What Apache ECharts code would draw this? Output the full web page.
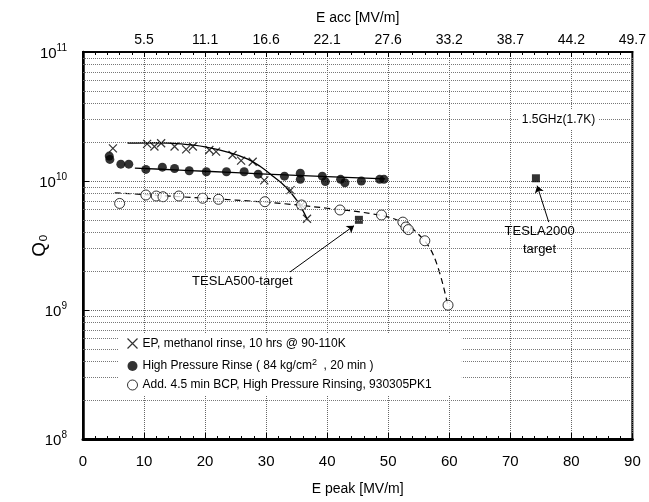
<!DOCTYPE html>
<html>
<head>
<meta charset="utf-8">
<script src="https://cdn.jsdelivr.net/npm/echarts@6/dist/echarts.min.js"></script>
<style>
html, body { margin: 0; padding: 0; background: #fff; }
#chart { width: 649px; height: 502px; }
</style>
</head>
<body>
<div id="chart"></div>
<script>
// values: E peak [MV/m] and Q0
const epX = [4.9, 10.5, 11.7, 12.8, 15.0, 16.9, 18.0, 20.7, 21.8, 24.5, 25.9, 27.8, 29.7, 34.0, 35.8, 36.7];
const epQ = [1.79e10, 1.94e10, 1.85e10, 1.96e10, 1.85e10, 1.76e10, 1.85e10, 1.74e10, 1.69e10, 1.59e10, 1.44e10, 1.41e10, 1.01e10, 8.5e9, 6.5e9, 5.1e9];
const epFitX = [7.3, 12, 16, 20, 24, 27, 29, 31, 33, 35, 36.7];
const epFitQ = [1.97e10, 1.98e10, 1.94e10, 1.84e10, 1.66e10, 1.48e10, 1.30e10, 1.10e10, 9.2e9, 7.1e9, 5.1e9];

const hprX = [4.3, 4.4, 6.2, 7.5, 10.3, 13.0, 15.0, 17.4, 20.2, 23.5, 26.4, 28.7, 33.0, 35.6, 35.6, 39.2, 39.7, 42.2, 42.9, 45.6, 48.6, 49.3];
const hprQ = [1.56e10, 1.47e10, 1.35e10, 1.35e10, 1.23e10, 1.28e10, 1.25e10, 1.20e10, 1.18e10, 1.18e10, 1.18e10, 1.13e10, 1.09e10, 1.15e10, 1.03e10, 1.09e10, 9.9e9, 1.03e10, 9.7e9, 1.0e10, 1.03e10, 1.03e10];
const hprFitX = [8.5, 15, 20, 30, 40, 49.5];
const hprFitQ = [1.26e10, 1.22e10, 1.19e10, 1.13e10, 1.08e10, 1.04e10];

const bcpX = [6.0, 10.3, 12.0, 13.1, 15.7, 19.6, 22.2, 29.8, 35.8, 42.1, 48.9, 52.4, 52.9, 53.3, 56.0, 59.8];
const bcpQ = [6.7e9, 7.79e9, 7.65e9, 7.55e9, 7.65e9, 7.35e9, 7.21e9, 6.91e9, 6.52e9, 5.96e9, 5.45e9, 4.8e9, 4.4e9, 4.2e9, 3.44e9, 1.09e9];
const bcpFitX = [5.2, 10, 20, 30, 40, 48, 52, 55, 57.5, 59.7];
const bcpFitQ = [8.1e9, 7.85e9, 7.35e9, 6.85e9, 6.15e9, 5.5e9, 4.85e9, 3.85e9, 2.6e9, 1.12e9];

const targetX = [45.2, 74.2];
const targetQ = [5.0e9, 1.05e10];

const topTickLabels = ['5.5', '11.1', '16.6', '22.1', '27.6', '33.2', '38.7', '44.2', '49.7'];
const decades = [1e8, 1e9, 1e10];
const minorSteps = [2, 3, 4, 5, 6, 7, 8, 9];

const names = {
  ep: 'EP, methanol rinse, 10 hrs @ 90-110K',
  hpr: 'High Pressure Rinse ( 84 kg/cm2  , 20 min )',
  bcp: 'Add. 4.5 min BCP, High Pressure Rinsing, 930305PK1'
};

const zip = (xs, ys) => xs.map((x, i) => [x, ys[i]]);
const font = 'Liberation Sans, Arial, Helvetica, sans-serif';
const crossPath = 'path://M0,0L10,10M0,10L10,0';

const minorLines = [];
decades.forEach(d => minorSteps.forEach(m => minorLines.push({ yAxis: d * m })));

const myChart = echarts.init(document.getElementById('chart'));
const option = {
  animation: false,
  textStyle: { fontFamily: font, color: '#000' },
  grid: { left: 83, right: 14, top: 52, bottom: 63, show: true, borderColor: '#000', borderWidth: 2 },
  legend: {
    orient: 'vertical',
    left: 119,
    top: 333,
    z: 20,
    padding: [3, 30, 4, 6],
    backgroundColor: '#fff',
    itemWidth: 10,
    itemHeight: 10,
    itemGap: 7,
    selectedMode: false,
    textStyle: {
      fontSize: 12, color: '#000',
      rich: { sup: { fontSize: 9, verticalAlign: 'bottom', padding: [0, 0, 7, 0] } }
    },
    formatter: function (n) {
      return n === names.hpr ? 'High Pressure Rinse ( 84 kg/cm{sup|2}  , 20 min )' : n;
    },
    data: [
      { name: names.ep, icon: crossPath, itemStyle: { color: 'none', borderColor: '#000', borderWidth: 1.2 } },
      { name: names.hpr, icon: 'circle', itemStyle: { color: '#000' } },
      { name: names.bcp, icon: 'circle', itemStyle: { color: '#fff', borderColor: '#000', borderWidth: 1 } }
    ]
  },
  xAxis: [
    {
      type: 'value', min: 0, max: 90, interval: 10,
      name: 'E peak [MV/m]', nameLocation: 'middle', nameGap: 43,
      nameTextStyle: { fontSize: 14 },
      axisLine: { lineStyle: { color: '#000', width: 3 } },
      axisTick: { inside: true, length: 6, lineStyle: { color: '#000' } },
      minorTick: { show: true, splitNumber: 5, length: 3, lineStyle: { color: '#000' } },
      axisLabel: { fontSize: 15, margin: 15, color: '#000', showMaxLabel: true },
      splitLine: { show: true, lineStyle: { color: '#666', type: 'dotted', width: 1 } }
    },
    {
      type: 'value', position: 'top', min: 0, max: 90, interval: 10,
      name: 'E acc [MV/m]', nameLocation: 'middle', nameGap: 27,
      nameTextStyle: { fontSize: 14 },
      axisLine: { lineStyle: { color: '#000', width: 2 } },
      axisTick: { inside: true, length: 5, lineStyle: { color: '#000' } },
      minorTick: { show: true, splitNumber: 5, length: 3, lineStyle: { color: '#000' } },
      axisLabel: {
        fontSize: 14, margin: 5, color: '#000', showMaxLabel: true,
        formatter: v => (v === 0 ? '' : topTickLabels[v / 10 - 1])
      },
      splitLine: { show: false }
    }
  ],
  yAxis: {
    type: 'log', logBase: 10, min: 1e8, max: 1e11,
    name: 'Q\u2080', nameLocation: 'middle', nameGap: 34, nameRotate: 90,
    nameMoveOverlap: false,
    nameTextStyle: { fontSize: 19 },
    axisLine: { lineStyle: { color: '#000', width: 2.5 } },
    axisTick: { inside: true, length: 6, lineStyle: { color: '#000' } },
    axisLabel: {
      margin: 16, color: '#000',
      formatter: v => '{b|10}{s|' + Math.round(Math.log10(v)) + '}',
      rich: {
        b: { fontSize: 15, verticalAlign: 'bottom' },
        s: { fontSize: 10, verticalAlign: 'bottom', padding: [0, 0, 8, 0] }
      }
    },
    splitLine: { show: true, lineStyle: { color: '#666', type: 'dotted', width: 1 } }
  },
  series: [
    {
      name: 'hprFit', type: 'line', data: zip(hprFitX, hprFitQ), smooth: 0.4,
      showSymbol: false, silent: true, z: 1,
      lineStyle: { color: '#000', width: 1.3 },
      markLine: {
        silent: true, symbol: ['none', 'none'], label: { show: false },
        lineStyle: { color: '#777', type: 'dotted', width: 1 },
        data: minorLines
      }
    },
    {
      name: 'epFit', type: 'line', data: zip(epFitX, epFitQ), smooth: 0.4,
      showSymbol: false, silent: true, z: 1,
      lineStyle: { color: '#000', width: 1.3 }
    },
    {
      name: 'bcpFit', type: 'line', data: zip(bcpFitX, bcpFitQ), smooth: 0.4,
      showSymbol: false, silent: true, z: 1,
      lineStyle: { color: '#000', width: 1.2, type: [6, 4] }
    },
    {
      name: names.ep, type: 'scatter', data: zip(epX, epQ),
      symbol: crossPath, symbolSize: 8, z: 3,
      itemStyle: { color: 'none', borderColor: '#000', borderWidth: 1.2 }
    },
    {
      name: names.hpr, type: 'scatter', data: zip(hprX, hprQ),
      symbol: 'circle', symbolSize: 9, z: 3,
      itemStyle: { color: '#000' }
    },
    {
      name: names.bcp, type: 'scatter', data: zip(bcpX, bcpQ),
      symbol: 'circle', symbolSize: 10, z: 3,
      itemStyle: { color: '#fff', borderColor: '#000', borderWidth: 1 }
    },
    {
      name: 'targets', type: 'scatter', data: zip(targetX, targetQ),
      symbol: 'rect', symbolSize: 8, z: 4,
      itemStyle: { color: '#000' },
      markLine: {
        silent: true, symbol: ['none', 'arrow'], symbolSize: 7,
        label: { show: false },
        lineStyle: { color: '#000', type: 'solid', width: 1 },
        data: [
          [{ coord: [33.9, 1.97e9] }, { coord: [44.4, 4.5e9] }],
          [{ coord: [76.3, 4.8e9] }, { coord: [74.4, 9.2e9] }]
        ]
      },
      markPoint: {
        silent: true, symbol: 'rect', symbolSize: 1,
        itemStyle: { color: 'rgba(0,0,0,0)' },
        label: { show: true, position: 'inside', color: '#000', fontSize: 13, formatter: '{c}', lineHeight: 18 },
        data: [
          { coord: [26.1, 1.68e9], value: 'TESLA500-target' },
          { coord: [74.8, 3.45e9], value: 'TESLA2000\ntarget' },
          { coord: [77.9, 2.97e10], value: '1.5GHz(1.7K)',
            label: { fontSize: 12, backgroundColor: '#fff', padding: [1, 3] } }
        ]
      }
    }
  ]
};
myChart.setOption(option);
</script>
</body>
</html>
